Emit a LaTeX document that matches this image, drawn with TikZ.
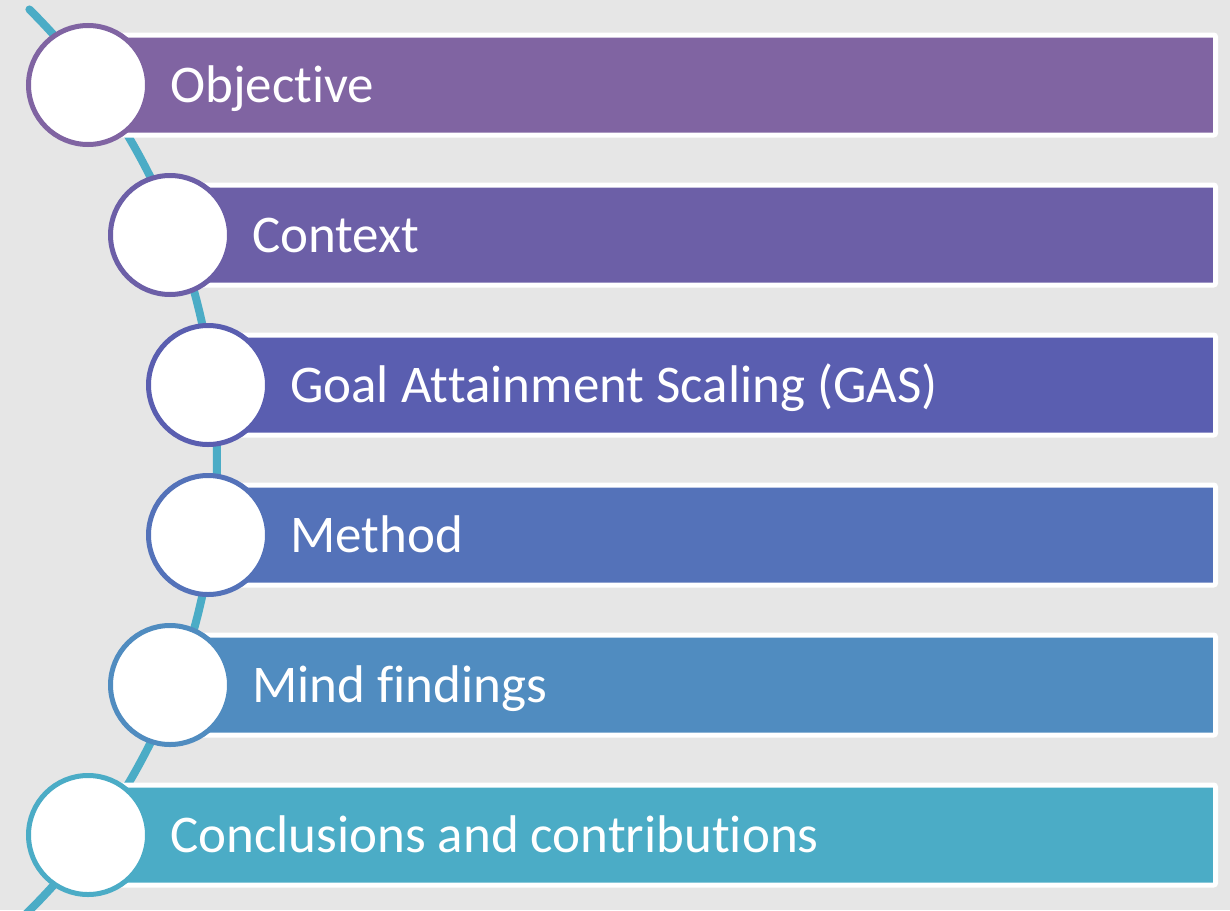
\documentclass[tikz,border=0pt]{standalone}
\usepackage{fontspec}
\setmainfont{Carlito}[Ligatures=NoCommon]
\definecolor{Fondo}{HTML}{E6E6E6}
\definecolor{Linea}{HTML}{4BACC6}
\definecolor{ColorUno}{HTML}{8064A2}
\definecolor{ColorDos}{HTML}{6C5FA7}
\definecolor{ColorTres}{HTML}{5A5EB0}
\definecolor{ColorCuatro}{HTML}{5472B9}
\definecolor{ColorCinco}{HTML}{508CC0}
\definecolor{ColorSeis}{HTML}{4BACC6}
\tikzset{
    barra/.style={draw=white, line width=5pt, rounded corners=2pt},
    circulo/.style={circle, fill=white, line width=5pt, minimum size=119pt, inner sep=0pt},
    texto/.style={anchor=base west, inner sep=0pt, text=white,
        font=\fontsize{53}{60}\selectfont},
    linea/.style={draw=Linea, line width=8pt, line cap=round}
}

\begin{document}
\begin{tikzpicture}[x=1pt, y=-1pt]

    \clip (0,0) rectangle (1230,910);
    \fill[Fondo] (0,0) rectangle (1230,910);

    \coordinate (O) at (-418,460);

    % Dibujar arco
    \draw[linea] (O) ++(-45.2:635) arc[start angle=-45.2, end angle=47, radius=635];

    % Barras
    \draw[barra, fill=ColorUno] (88,35) rectangle (1215.5,135);
    \draw[barra, fill=ColorDos] (170,185) rectangle (1215.5,285);
    \draw[barra, fill=ColorTres] (208,335) rectangle (1215.5,435);
    \draw[barra, fill=ColorCuatro] (208,485) rectangle (1215.5,585);
    \draw[barra, fill=ColorCinco] (170,635) rectangle (1215.5,735);
    \draw[barra, fill=ColorSeis] (88,785) rectangle (1215.5,885);

    % Circulos
    \node[circulo, draw=ColorUno] (cUno) at (88,85) {};
    \node[circulo, draw=ColorDos] (cDos) at (170,235) {};
    \node[circulo, draw=ColorTres] (cTres) at (208,385) {};
    \node[circulo, draw=ColorCuatro] (cCuatro) at (208,535) {};
    \node[circulo, draw=ColorCinco] (cCinco) at (170,685) {};
    \node[circulo, draw=ColorSeis] (cSeis) at (88,835) {};

    % Textos (sin ligaduras)
    \node[texto] (tUno) at (170,102) {Object\kern0pt ive};
    \node[texto] (tDos) at (252,252) {Context};
    \node[texto] (tTres) at (290,402) {Goal At\kern0pt tainment Scaling (GAS)};
    \node[texto] (tCuatro) at (290,552) {Method};
    \node[texto] (tCinco) at (252,702) {Mind f\kern0pt indings};
    \node[texto] (tSeis) at (170,852) {Conclusions and contribut\kern0pt ions};

\end{tikzpicture}
\end{document}
